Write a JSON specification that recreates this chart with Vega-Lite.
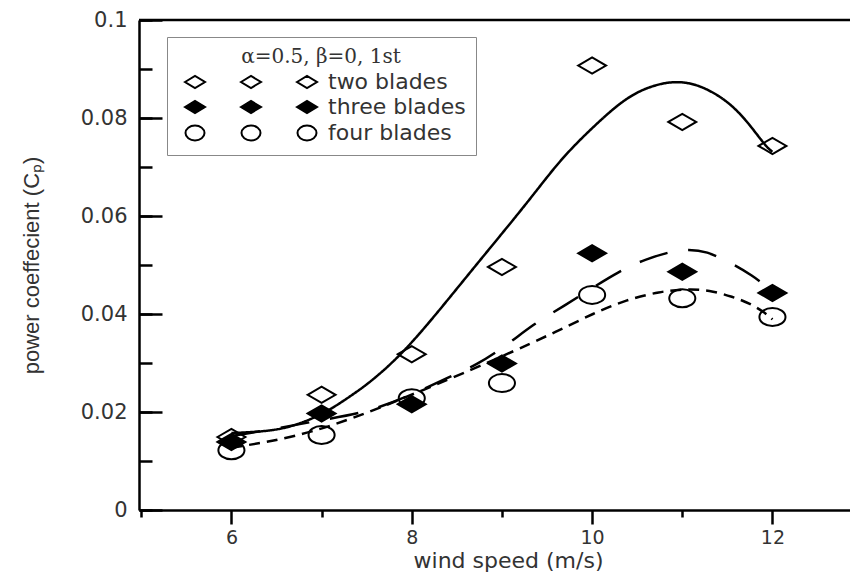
{
  "$schema": "https://vega.github.io/schema/vega-lite/v6.json",
  "width": 711,
  "height": 490,
  "autosize": {"type": "none"},
  "padding": {"left": 139, "top": 20, "right": 0, "bottom": 64},
  "background": "white",
  "config": {"view": {"stroke": null}},
  "datasets": {
    "points": [
      {"ws": 6, "cp": 0.0149, "series": "two blades"},
      {"ws": 7, "cp": 0.0235, "series": "two blades"},
      {"ws": 8, "cp": 0.0318, "series": "two blades"},
      {"ws": 9, "cp": 0.0496, "series": "two blades"},
      {"ws": 10, "cp": 0.0907, "series": "two blades"},
      {"ws": 11, "cp": 0.0792, "series": "two blades"},
      {"ws": 12, "cp": 0.0743, "series": "two blades"},
      {"ws": 6, "cp": 0.0139, "series": "three blades"},
      {"ws": 7, "cp": 0.0197, "series": "three blades"},
      {"ws": 8, "cp": 0.0216, "series": "three blades"},
      {"ws": 9, "cp": 0.0299, "series": "three blades"},
      {"ws": 10, "cp": 0.0524, "series": "three blades"},
      {"ws": 11, "cp": 0.0486, "series": "three blades"},
      {"ws": 12, "cp": 0.0443, "series": "three blades"},
      {"ws": 6, "cp": 0.0122, "series": "four blades"},
      {"ws": 7, "cp": 0.0153, "series": "four blades"},
      {"ws": 8, "cp": 0.0228, "series": "four blades"},
      {"ws": 9, "cp": 0.0259, "series": "four blades"},
      {"ws": 10, "cp": 0.0439, "series": "four blades"},
      {"ws": 11, "cp": 0.0432, "series": "four blades"},
      {"ws": 12, "cp": 0.0394, "series": "four blades"}
    ],
    "curves": [
      {"ws": 6.0, "cp": 0.0157, "series": "two blades"},
      {"ws": 6.35, "cp": 0.0160, "series": "two blades"},
      {"ws": 6.61, "cp": 0.0167, "series": "two blades"},
      {"ws": 6.87, "cp": 0.0184, "series": "two blades"},
      {"ws": 7.09, "cp": 0.0204, "series": "two blades"},
      {"ws": 7.35, "cp": 0.0236, "series": "two blades"},
      {"ws": 7.57, "cp": 0.0265, "series": "two blades"},
      {"ws": 7.98, "cp": 0.0333, "series": "two blades"},
      {"ws": 8.64, "cp": 0.0484, "series": "two blades"},
      {"ws": 9.31, "cp": 0.0633, "series": "two blades"},
      {"ws": 9.64, "cp": 0.0714, "series": "two blades"},
      {"ws": 10.01, "cp": 0.0782, "series": "two blades"},
      {"ws": 10.38, "cp": 0.0843, "series": "two blades"},
      {"ws": 10.675, "cp": 0.0867, "series": "two blades"},
      {"ws": 10.93, "cp": 0.0876, "series": "two blades"},
      {"ws": 11.19, "cp": 0.0868, "series": "two blades"},
      {"ws": 11.49, "cp": 0.0837, "series": "two blades"},
      {"ws": 11.71, "cp": 0.0796, "series": "two blades"},
      {"ws": 11.93, "cp": 0.0741, "series": "two blades"},
      {"ws": 12.0, "cp": 0.0731, "series": "two blades"},
      {"ws": 6.0, "cp": 0.0151, "series": "three blades"},
      {"ws": 6.53, "cp": 0.0167, "series": "three blades"},
      {"ws": 7.0, "cp": 0.0184, "series": "three blades"},
      {"ws": 7.48, "cp": 0.0198, "series": "three blades"},
      {"ws": 7.98, "cp": 0.0233, "series": "three blades"},
      {"ws": 8.42, "cp": 0.0272, "series": "three blades"},
      {"ws": 8.72, "cp": 0.0296, "series": "three blades"},
      {"ws": 9.03, "cp": 0.0333, "series": "three blades"},
      {"ws": 9.36, "cp": 0.0381, "series": "three blades"},
      {"ws": 9.62, "cp": 0.0408, "series": "three blades"},
      {"ws": 10.31, "cp": 0.0490, "series": "three blades"},
      {"ws": 10.60, "cp": 0.0512, "series": "three blades"},
      {"ws": 10.88, "cp": 0.0528, "series": "three blades"},
      {"ws": 11.07, "cp": 0.0532, "series": "three blades"},
      {"ws": 11.27, "cp": 0.0528, "series": "three blades"},
      {"ws": 11.51, "cp": 0.0507, "series": "three blades"},
      {"ws": 11.77, "cp": 0.0480, "series": "three blades"},
      {"ws": 12.0, "cp": 0.0447, "series": "three blades"},
      {"ws": 6.0, "cp": 0.0127, "series": "four blades"},
      {"ws": 6.87, "cp": 0.0153, "series": "four blades"},
      {"ws": 7.865, "cp": 0.0224, "series": "four blades"},
      {"ws": 8.99, "cp": 0.0312, "series": "four blades"},
      {"ws": 9.64, "cp": 0.0367, "series": "four blades"},
      {"ws": 10.01, "cp": 0.0401, "series": "four blades"},
      {"ws": 10.38, "cp": 0.0429, "series": "four blades"},
      {"ws": 10.75, "cp": 0.0446, "series": "four blades"},
      {"ws": 11.045, "cp": 0.0451, "series": "four blades"},
      {"ws": 11.30, "cp": 0.0449, "series": "four blades"},
      {"ws": 11.56, "cp": 0.0435, "series": "four blades"},
      {"ws": 11.75, "cp": 0.0422, "series": "four blades"},
      {"ws": 11.93, "cp": 0.0401, "series": "four blades"},
      {"ws": 12.0, "cp": 0.0389, "series": "four blades"}
    ]
  },
  "layer": [
    {
      "data": {"name": "curves"},
      "mark": {"type": "line", "interpolate": "basis", "color": "black", "strokeWidth": 2.5},
      "encoding": {
        "x": {
          "field": "ws", "type": "quantitative",
          "scale": {"domain": [4.975, 12.86], "nice": false, "zero": false},
          "axis": {
            "title": "wind speed (m/s)",
            "values": [5, 6, 7, 8, 9, 10, 11, 12],
            "format": "~g",
            "labelExpr": "datum.value % 2 === 0 ? datum.label : ''",
            "tickSize": {"condition": {"test": "datum.value % 2 === 0", "value": 14}, "value": 7},
            "tickWidth": 2.5, "tickColor": "black",
            "domainColor": "black", "domainWidth": 2.5,
            "grid": false,
            "labelFont": "DejaVu Sans", "labelFontSize": 19, "labelColor": "#333",
            "labelPadding": 4,
            "titleFont": "DejaVu Sans", "titleFontSize": 22, "titleFontWeight": "normal", "titleColor": "#333",
            "titlePadding": 3,
            "titleX": 369
          }
        },
        "y": {
          "field": "cp", "type": "quantitative",
          "scale": {"domain": [0, 0.1], "nice": false, "zero": false},
          "axis": {
            "orient": "left",
            "title": "power coeffecient (Cₚ)",
            "values": [0, 0.02, 0.04, 0.06, 0.08, 0.1],
            "format": "~g",
            "ticks": false,
            "domainColor": "black", "domainWidth": 2.5,
            "grid": false,
            "labelFont": "DejaVu Sans", "labelFontSize": 21, "labelColor": "#333",
            "labelPadding": 12,
            "titleFont": "Liberation Sans", "titleFontSize": 22, "titleFontWeight": "normal", "titleColor": "#333",
            "titlePadding": 37
          }
        },
        "strokeDash": {
          "field": "series", "type": "nominal",
          "scale": {"domain": ["two blades", "three blades", "four blades"], "range": [[1, 0], [29, 21], [11, 7]]},
          "legend": null
        }
      }
    },
    {
      "data": {"name": "points"},
      "mark": {"type": "point", "stroke": "black", "strokeWidth": 2, "size": 324, "opacity": 1},
      "encoding": {
        "x": {"field": "ws", "type": "quantitative"},
        "y": {
          "field": "cp", "type": "quantitative",
          "axis": {
            "orient": "left",
            "title": null,
            "values": [0, 0.02, 0.04, 0.06, 0.08, 0.1],
            "labels": false,
            "domain": false,
            "grid": false,
            "tickSize": -23,
            "tickWidth": 2.5, "tickColor": "black"
          }
        },
        "shape": {
          "field": "series", "type": "nominal",
          "scale": {
            "domain": ["two blades", "three blades", "four blades"],
            "range": ["M-1.55,0L0,-0.9L1.55,0L0,0.9Z", "M-1.55,0L0,-0.9L1.55,0L0,0.9Z", "M-1.45,0A1.45,1 0 1,0 1.45,0A1.45,1 0 1,0 -1.45,0Z"]
          },
          "legend": null
        },
        "fill": {
          "field": "series", "type": "nominal",
          "scale": {"domain": ["two blades", "three blades", "four blades"], "range": ["transparent", "black", "transparent"]},
          "legend": null
        }
      }
    },
    {
      "data": {"values": []},
      "mark": {"type": "point", "strokeWidth": 2, "size": 400, "opacity": 1},
      "encoding": {
        "shape": {
          "field": "series", "type": "nominal",
          "scale": {
            "domain": ["two blades", "three blades", "four blades"],
            "range": [
              "M-1,0L0,-0.6L1,0L0,0.6Z M4.6,0L5.6,-0.6L6.6,0L5.6,0.6Z M10.2,0L11.2,-0.6L12.2,0L11.2,0.6Z",
              "M-1,0L0,-0.6L1,0L0,0.6Z M4.6,0L5.6,-0.6L6.6,0L5.6,0.6Z M10.2,0L11.2,-0.6L12.2,0L11.2,0.6Z",
              "M-0.95,0A0.95,0.75 0 1,0 0.95,0A0.95,0.75 0 1,0 -0.95,0Z M4.65,0A0.95,0.75 0 1,0 6.55,0A0.95,0.75 0 1,0 4.65,0Z M10.25,0A0.95,0.75 0 1,0 12.15,0A0.95,0.75 0 1,0 10.25,0Z"
            ]
          },
          "legend": {
            "title": "α=0.5, β=0, 1st",
            "orient": "none", "legendX": 28, "legendY": 17,
            "padding": 10, "strokeColor": "#888", "fillColor": "white",
            "titleFont": "DejaVu Serif", "titleFontSize": 20, "titleFontWeight": "normal", "titleColor": "#333",
            "titleAnchor": "middle", "titlePadding": 4,
            "labelFont": "DejaVu Sans", "labelFontSize": 22, "labelColor": "#333",
            "labelOffset": 122, "rowPadding": 3, "symbolOffset": 7,
            "symbolSize": 400, "symbolStrokeWidth": 2, "symbolStrokeColor": "black"
          }
        },
        "fill": {
          "field": "series", "type": "nominal",
          "scale": {"domain": ["two blades", "three blades", "four blades"], "range": ["transparent", "black", "transparent"]},
          "legend": {
            "title": "α=0.5, β=0, 1st",
            "orient": "none", "legendX": 28, "legendY": 17,
            "padding": 10, "strokeColor": "#888", "fillColor": "white",
            "titleFont": "DejaVu Serif", "titleFontSize": 20, "titleFontWeight": "normal", "titleColor": "#333",
            "titleAnchor": "middle", "titlePadding": 4,
            "labelFont": "DejaVu Sans", "labelFontSize": 22, "labelColor": "#333",
            "labelOffset": 122, "rowPadding": 3, "symbolOffset": 7,
            "symbolSize": 400, "symbolStrokeWidth": 2, "symbolStrokeColor": "black"
          }
        },
        "stroke": {
          "field": "series", "type": "nominal",
          "scale": {"domain": ["two blades", "three blades", "four blades"], "range": ["black", "black", "black"]},
          "legend": {
            "title": "α=0.5, β=0, 1st",
            "orient": "none", "legendX": 28, "legendY": 17,
            "padding": 10, "strokeColor": "#888", "fillColor": "white",
            "titleFont": "DejaVu Serif", "titleFontSize": 20, "titleFontWeight": "normal", "titleColor": "#333",
            "titleAnchor": "middle", "titlePadding": 4,
            "labelFont": "DejaVu Sans", "labelFontSize": 22, "labelColor": "#333",
            "labelOffset": 122, "rowPadding": 3, "symbolOffset": 7,
            "symbolSize": 400, "symbolStrokeWidth": 2, "symbolStrokeColor": "black"
          }
        }
      }
    },
    {
      "data": {"values": [{}]},
      "mark": {"type": "rule", "color": "black", "strokeWidth": 2.5},
      "encoding": {
        "y": {
          "datum": 0.1,
          "axis": {
            "orient": "left",
            "title": null,
            "values": [0, 0.01, 0.02, 0.03, 0.04, 0.05, 0.06, 0.07, 0.08, 0.09, 0.1],
            "labels": false,
            "domain": false,
            "grid": false,
            "tickSize": -13,
            "tickWidth": 2.5, "tickColor": "black"
          }
        }
      }
    }
  ],
  "resolve": {
    "scale": {"shape": "independent", "fill": "independent", "stroke": "independent"},
    "axis": {"y": "independent"}
  }
}
